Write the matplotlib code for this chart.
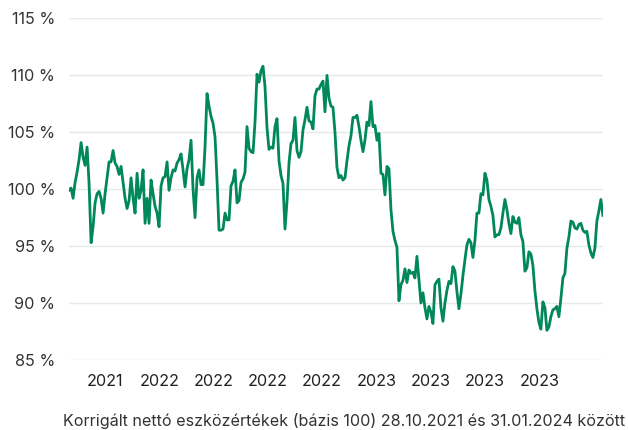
import matplotlib
matplotlib.use("Agg")
import matplotlib.pyplot as plt
import pandas as pd

plt.rcParams['font.family'] = ['Inter', 'DejaVu Sans']

# adjusted NAV, base 100
start = "2021-10-28"
end = "2024-01-31"
nav = [
    99.9, 100.1, 99.2, 100.6, 101.5, 102.6, 104.1, 102.8, 102.1, 103.7,
    100.5, 95.3, 96.7, 98.8, 99.6, 99.8, 99.2, 97.9, 99.6, 101.0,
    102.4, 102.4, 103.4, 102.3, 102.0, 101.3, 102.0, 100.6, 99.2, 98.3,
    99.0, 101.0, 99.2, 97.9, 101.4, 99.2, 99.9, 101.7, 97.0, 99.2,
    97.0, 100.8, 99.6, 98.5, 97.9, 96.7, 100.3, 101.0, 101.1, 102.4,
    99.9, 101.0, 101.7, 101.6, 102.3, 102.6, 103.1, 101.7, 100.2, 101.8,
    102.6, 104.3, 100.0, 97.5, 101.0, 101.7, 100.4, 100.4, 103.7, 108.4,
    107.3, 106.4, 105.8, 104.6, 100.8, 96.4, 96.4, 96.5, 97.9, 97.3,
    97.3, 100.3, 100.7, 101.7, 98.8, 99.0, 100.6, 100.9, 101.5, 105.5,
    103.6, 103.3, 103.2, 105.9, 110.1, 109.4, 110.4, 110.8, 109.0, 105.4,
    103.5, 103.7, 103.6, 105.5, 106.2, 102.5, 101.2, 100.5, 96.5, 98.9,
    102.3, 104.0, 104.3, 106.3, 103.4, 102.8, 103.3, 105.2, 106.1, 107.2,
    106.0, 105.9, 105.3, 108.2, 108.8, 108.8, 109.2, 109.5, 106.8, 110.0,
    108.0, 107.3, 107.2, 105.0, 101.9, 101.0, 101.2, 100.8, 101.0, 102.5,
    103.8, 104.7, 106.3, 106.3, 106.5, 105.5, 104.3, 103.3, 104.3, 105.9,
    105.6, 107.7, 105.5, 105.6, 104.3, 104.9, 101.4, 101.3, 99.5, 102.0,
    101.8, 98.2, 96.3, 95.5, 94.9, 90.2, 91.6, 92.0, 93.0, 91.8,
    92.9, 92.6, 92.7, 92.2, 94.1, 92.1, 90.0, 90.9, 89.6, 88.6,
    89.7, 89.2, 88.2, 91.6, 91.9, 92.1, 89.6, 88.4, 90.0, 91.1,
    91.9, 91.7, 93.2, 92.8, 91.0, 89.5, 90.8, 92.4, 93.8, 95.1,
    95.6, 95.3, 94.0, 95.5, 97.9, 97.9, 99.6, 99.5, 101.4, 100.8,
    99.1, 98.5, 97.7, 95.8, 96.0, 96.0, 96.6, 97.9, 99.1, 98.2,
    97.0, 96.1, 97.6, 97.1, 97.0, 97.5, 96.0, 95.4, 92.8, 93.1,
    94.5, 94.3, 93.3, 91.1, 89.5, 88.3, 87.7, 90.1, 89.6, 87.6,
    87.9, 88.8, 89.4, 89.5, 89.7, 88.8, 90.4, 92.2, 92.6, 94.8,
    95.8, 97.2, 97.1, 96.6, 96.5, 96.9, 97.0, 96.4, 96.2, 96.3,
    95.1, 94.4, 94.0, 94.8, 97.2, 98.1, 99.1, 97.7,
]

tick_dates = ["2021-12-23", "2022-03-17", "2022-06-08", "2022-08-31", "2022-11-23",
              "2023-02-15", "2023-05-10", "2023-08-02", "2023-10-25"]
tick_labels = [d[:4] for d in tick_dates]
y_ticks = [85, 90, 95, 100, 105, 110, 115]
caption = "Korrigált nettó eszközértékek (bázis 100) 28.10.2021 és 31.01.2024 között"

dates = pd.date_range(start, end, periods=len(nav))

fig = plt.figure(figsize=(6.28, 4.30), dpi=100)
ax = fig.add_axes([0.110, 0.163, 0.850, 0.794])

ax.plot(dates, nav, color="#00875a", linewidth=2.0, solid_joinstyle="round")

ax.set_xlim(pd.Timestamp(start), pd.Timestamp(end))
ax.set_ylim(85, 115)
ax.set_yticks(y_ticks)
ax.set_yticklabels([f"{v} %" for v in y_ticks])
ax.set_xticks(pd.to_datetime(tick_dates))
ax.set_xticklabels(tick_labels)

ax.grid(axis="y", color="#e4e8ef", linewidth=1)
ax.set_axisbelow(True)
for s in ax.spines.values():
    s.set_visible(False)
ax.tick_params(axis="y", length=0, pad=10, labelsize=11.7, labelcolor="#333333")
ax.tick_params(axis="x", length=0, pad=10, labelsize=11.7, labelcolor="#222222")

fig.text(0.996, 0.020, caption, ha="right", va="center", fontsize=11.6, color="#333333")

fig.savefig("out.png", dpi=100)
